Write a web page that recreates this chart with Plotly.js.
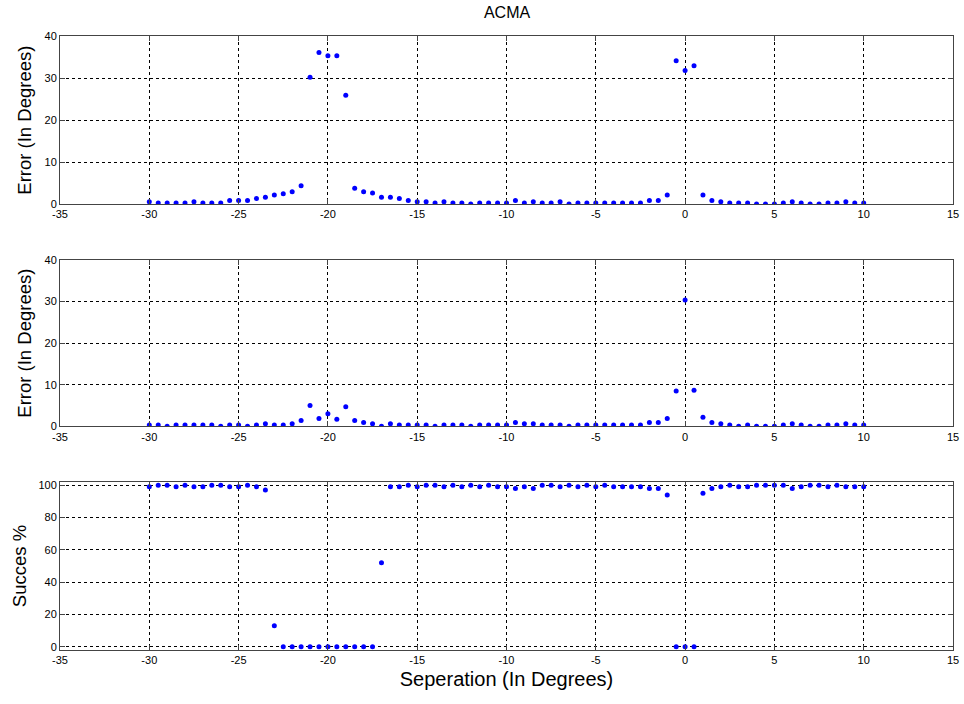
<!DOCTYPE html>
<html>
<head>
<meta charset="utf-8">
<script src="https://cdn.plot.ly/plotly-3.0.1.min.js"></script>
<style>html,body{margin:0;padding:0;background:#fff;}#chart{width:964px;height:704px;}</style>
</head>
<body>
<div id="chart"></div>
<script>
// Separation angles (degrees), -30 to 10 in 0.5 steps
const separation = [-30,-29.5,-29,-28.5,-28,-27.5,-27,-26.5,-26,-25.5,-25,-24.5,-24,-23.5,-23,-22.5,-22,-21.5,-21,-20.5,-20,-19.5,-19,-18.5,-18,-17.5,-17,-16.5,-16,-15.5,-15,-14.5,-14,-13.5,-13,-12.5,-12,-11.5,-11,-10.5,-10,-9.5,-9,-8.5,-8,-7.5,-7,-6.5,-6,-5.5,-5,-4.5,-4,-3.5,-3,-2.5,-2,-1.5,-1,-0.5,0,0.5,1,1.5,2,2.5,3,3.5,4,4.5,5,5.5,6,6.5,7,7.5,8,8.5,9,9.5,10];

// Top panel: error (degrees)
const errorTop = [0.6,0.3,0.3,0.3,0.3,0.6,0.3,0.3,0.3,0.9,0.9,0.9,1.4,1.7,2.2,2.5,3.0,4.4,30.2,36.1,35.3,35.3,25.9,3.8,3.0,2.7,1.7,1.7,1.35,0.9,0.6,0.6,0.3,0.6,0.3,0.3,0.1,0.3,0.3,0.3,0.3,0.9,0.3,0.6,0.3,0.3,0.6,0.1,0.3,0.3,0.3,0.3,0.3,0.3,0.3,0.3,0.9,0.9,2.2,34.1,31.8,32.9,2.2,0.9,0.6,0.3,0.3,0.3,0.1,0.1,0.1,0.3,0.6,0.3,0.1,0.1,0.3,0.3,0.6,0.3,0.3];

// Middle panel: error (degrees)
const errorMid = [0.3,0.3,0,0.3,0.3,0.3,0.3,0.3,0,0.3,0.3,0,0.3,0.6,0.3,0.3,0.6,1.4,5.0,1.9,3.0,1.7,4.7,1.4,0.9,0.6,0,0.6,0.3,0.3,0.3,0.3,0,0.3,0.3,0.3,0,0.3,0.3,0.3,0.3,0.9,0.6,0.6,0.3,0.3,0.3,0,0.3,0.3,0.3,0.3,0.3,0.3,0.3,0.3,0.9,0.9,1.9,8.5,30.4,8.7,2.2,0.9,0.6,0.3,0,0.3,0,0,0,0.3,0.6,0.3,0,0,0.3,0.3,0.6,0.3,0.3];

// Bottom panel: success percentage
const successPct = [99,100,100,99,100,99,99,100,100,99,99,100,99,97,13,0,0,0,0,0,0,0,0,0,0,0,52,99,99,100,99,100,100,99,100,99,100,99,100,99,99,98,99,98,100,100,99,100,99,100,99,100,99,99,99,99,98,98,94,0,0,0,95,98,99,100,99,99,100,100,100,100,98,99,100,100,99,100,99,99,99];

const xTicks = [-35,-30,-25,-20,-15,-10,-5,0,5,10,15];
const errTicks = [0,10,20,30,40];
const pctTicks = [0,20,40,60,80,100];

const FONT = 'Liberation Sans, Arial, sans-serif';
const marker = {color:'#0000ff', size:5, symbol:'circle'};

function xAxis(anchor){
  return {
    anchor: anchor, range:[-35,15], tickvals:xTicks, ticktext:xTicks.map(String),
    showgrid:true, gridcolor:'#000', griddash:'3px,3px', gridwidth:1,
    showline:true, linecolor:'#444', linewidth:1, mirror:'allticks',
    ticks:'inside', ticklen:5, tickcolor:'#444', zeroline:false,
    tickfont:{family:FONT, size:11, color:'#000'}
  };
}
function yAxis(anchor, range, ticks, domain, title, standoff){
  return {
    anchor: anchor, range:range, tickvals:ticks, ticktext:ticks.map(String), domain:domain,
    showgrid:true, gridcolor:'#000', griddash:'3px,3px', gridwidth:1,
    showline:true, linecolor:'#444', linewidth:1, mirror:'allticks',
    ticks:'inside', ticklen:5, tickcolor:'#444', zeroline:false,
    tickfont:{family:FONT, size:11, color:'#000'},
    title:{text:title, font:{family:FONT, size:18.5, color:'#000'}, standoff:standoff}
  };
}

const traces = [
  {x:separation, y:errorTop, type:'scatter', mode:'markers', marker:marker, xaxis:'x', yaxis:'y'},
  {x:separation, y:errorMid, type:'scatter', mode:'markers', marker:marker, xaxis:'x2', yaxis:'y2'},
  {x:separation, y:successPct, type:'scatter', mode:'markers', marker:marker, xaxis:'x3', yaxis:'y3'}
];

const xa3 = xAxis('y3');
xa3.title = {text:'Seperation (In Degrees)', font:{family:FONT, size:20, color:'#000'}, standoff:6};

const layout = {
  width:964, height:704, showlegend:false,
  paper_bgcolor:'#fff', plot_bgcolor:'#fff',
  margin:{l:60, r:11, t:36, b:54},
  title:{text:'ACMA', font:{family:FONT, size:16, color:'#000'}, x:0.526, xanchor:'center', y:0.983, yanchor:'middle', yref:'container'},
  xaxis: xAxis('y'),
  xaxis2: xAxis('y2'),
  xaxis3: xa3,
  yaxis: yAxis('x', [0,40], errTicks, [0.7259,1], 'Error (In Degrees)', 8),
  yaxis2: yAxis('x2', [0,40], errTicks, [0.3643,0.6352], 'Error (In Degrees)', 8),
  yaxis3: yAxis('x3', [-2,102], pctTicks, [0,0.2736], 'Succes %', 6)
};

Plotly.newPlot('chart', traces, layout, {displayModeBar:false, staticPlot:true});
</script>
</body>
</html>
